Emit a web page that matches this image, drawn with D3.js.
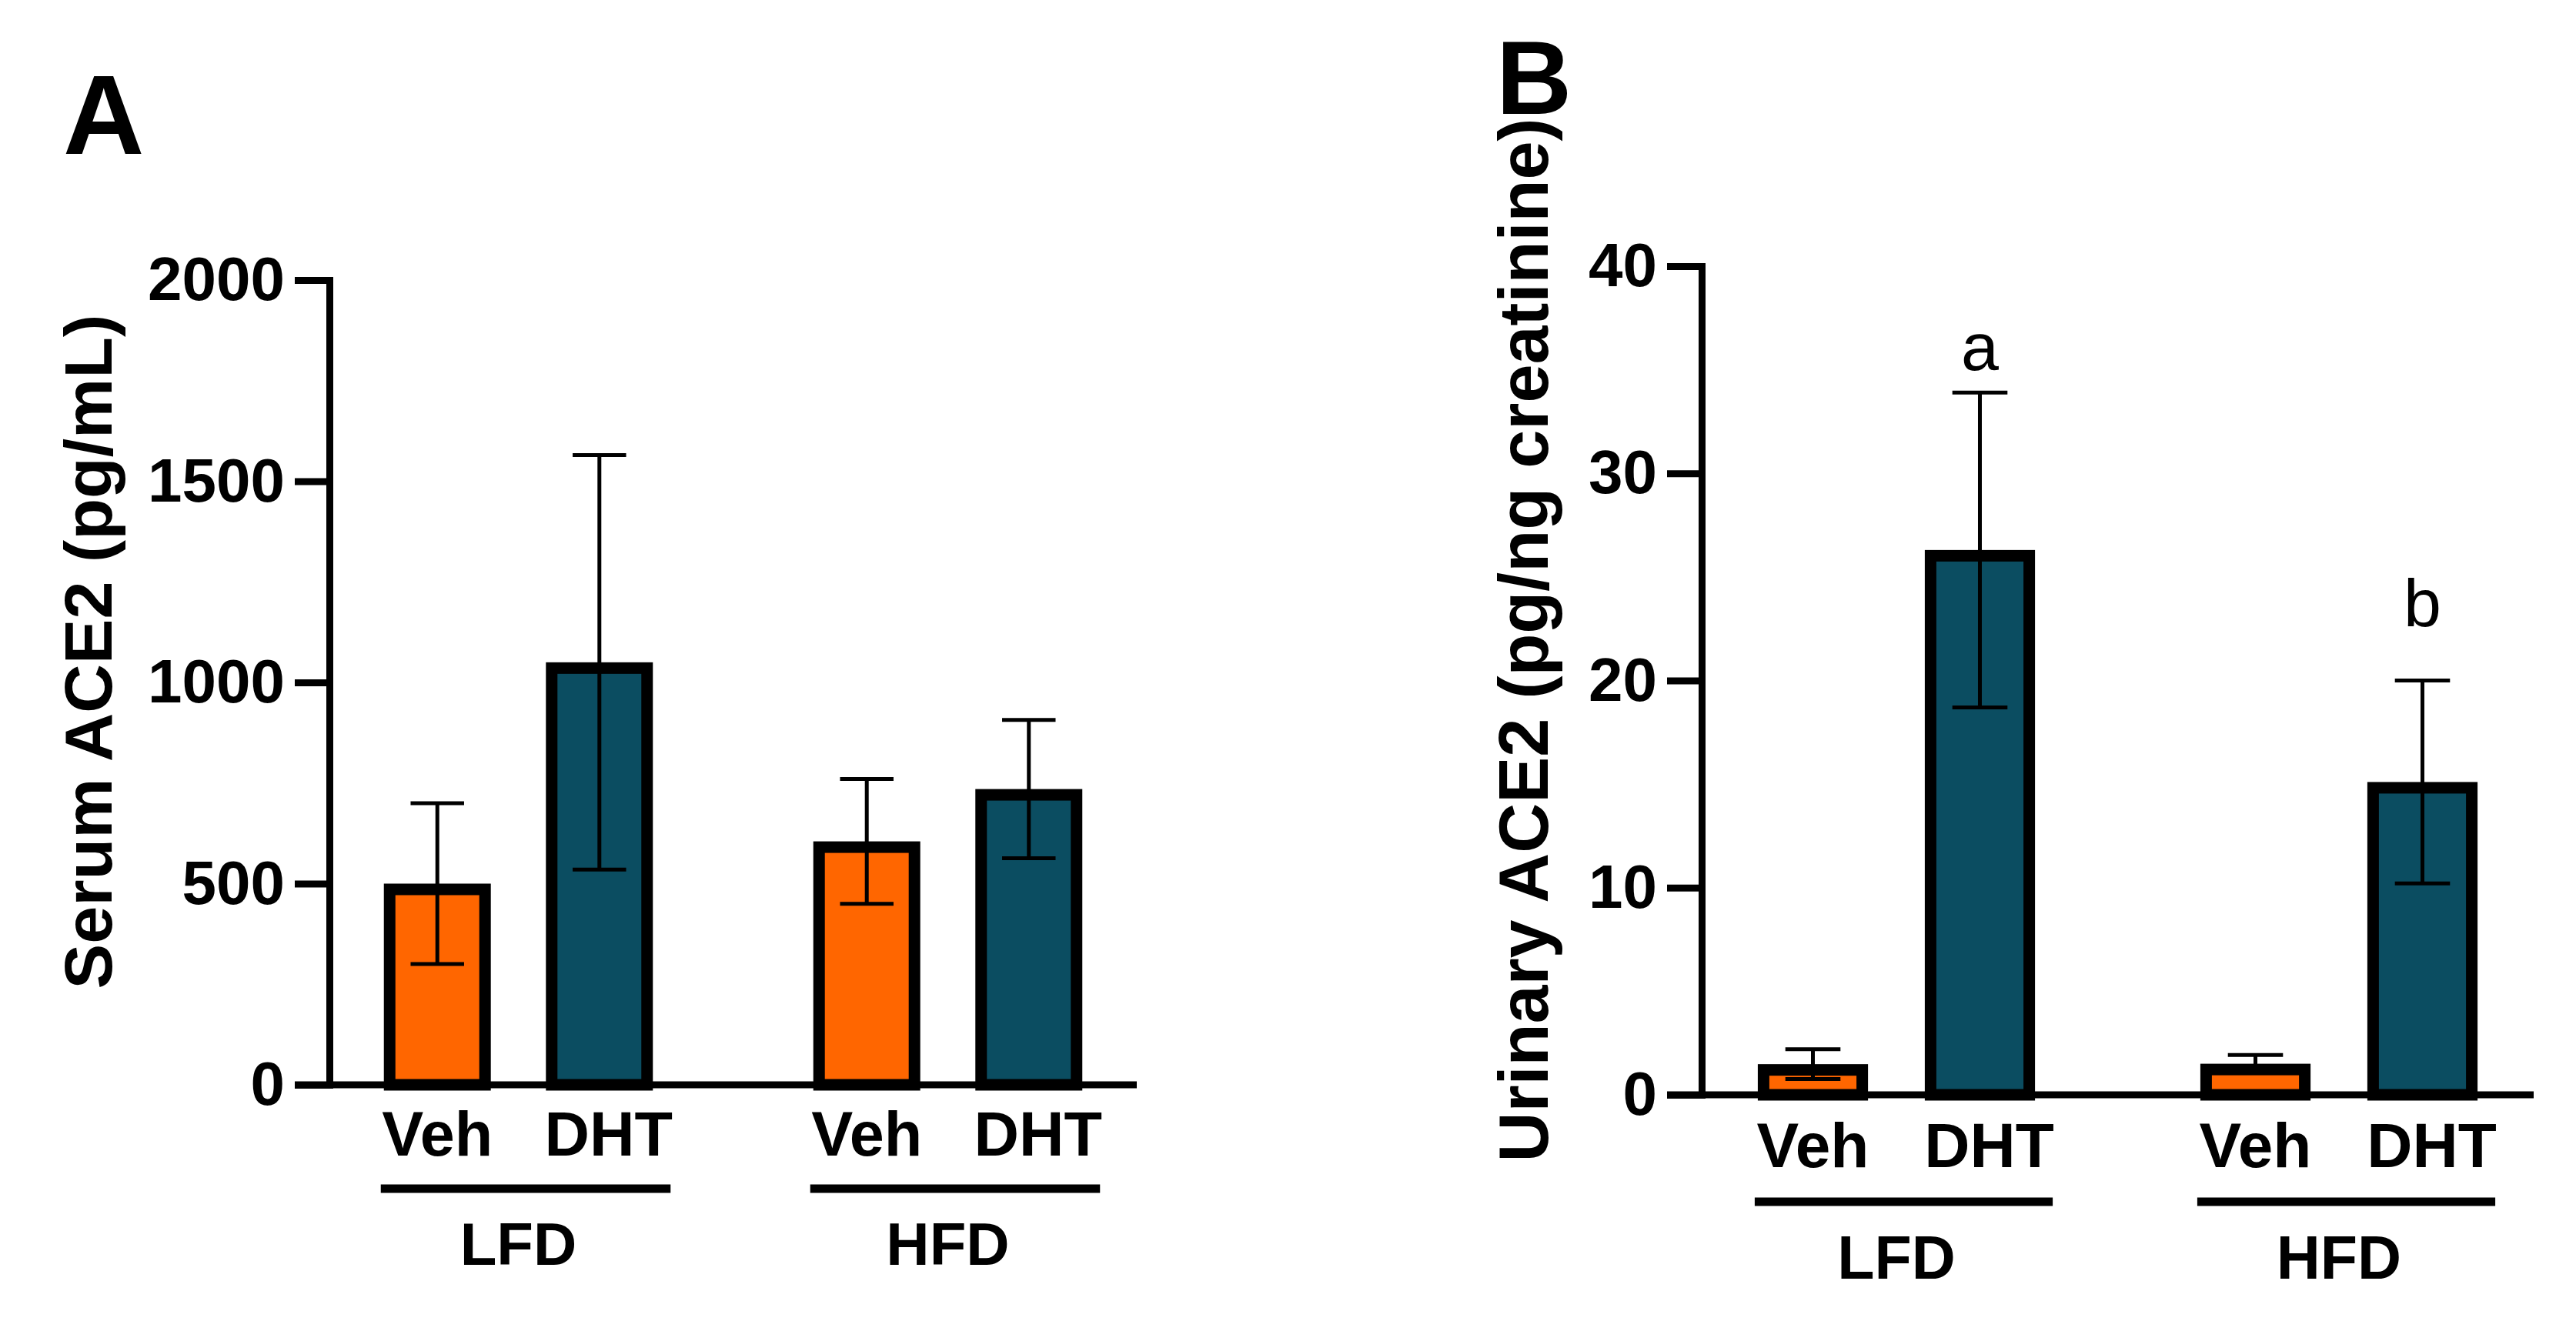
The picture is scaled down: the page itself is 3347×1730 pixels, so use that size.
<!DOCTYPE html>
<html lang="en">
<head>
<meta charset="UTF-8">
<title>Serum and urinary ACE2</title>
<style>
  html, body { margin: 0; padding: 0; background: #fff; }
  svg { display: block; font-family: "Liberation Sans", Arial, sans-serif; }
</style>
</head>
<body>
<svg id="chart" width="3347" height="1730"></svg>

<script src="https://cdn.jsdelivr.net/npm/d3@7/dist/d3.min.js"></script>
<script>
// ---- data (order: LFD Veh, LFD DHT, HFD Veh, HFD DHT) ----
const groups = ["LFD", "HFD"];
const treatments = ["Veh", "DHT"];

const serumMean = [500, 1050, 605, 735];
const serumErr = [200, 515, 155, 172];
const serumTicks = [0, 500, 1000, 1500, 2000];

const urineMean = [1.48, 26.3, 1.5, 15.1];
const urineErr = [0.72, 7.6, 0.42, 4.9];
const urineTicks = [0, 10, 20, 30, 40];
const urineLetters = ["", "a", "", "b"];
const urineLetterY = [null, 35.0, null, 22.6];

const colors = { Veh: "#ff6600", DHT: "#0b4d61" };

const svg = d3.select("#chart");

function rows(means, errs, letters, letterY) {
    const out = [];
    groups.forEach((g, gi) => {
        treatments.forEach((t, ti) => {
            const i = gi * treatments.length + ti;
            out.push({
                group: g, treat: t, mean: means[i], err: errs[i],
                letter: letters ? letters[i] : "", letterY: letterY ? letterY[i] : null
            });
        });
    });
    return out;
}

function drawPanel(p) {
    const g = svg.append("g");
    const data = rows(p.mean, p.err, p.letters, p.letterY);

    const y = d3.scaleLinear().domain([0, p.ticks[p.ticks.length - 1]]).range([p.y0, p.yTop]);
    const x0 = d3.scaleBand().domain(groups).range([p.axisX, p.endX])
        .paddingInner(0.2).paddingOuter(0.04);
    const x1 = d3.scaleBand().domain(treatments).range([0, x0.bandwidth()])
        .paddingInner(0.34).paddingOuter(0.23);
    const bw = x1.bandwidth();
    const cx = d => x0(d.group) + x1(d.treat) + bw / 2;

    // panel letter
    g.append("text")
        .attr("x", p.letterX).attr("y", p.letterBase)
        .attr("font-size", p.letterSize).attr("font-weight", "bold")
        .text(p.name);

    // bars (stroke drawn inside the outline)
    const sw = 15;
    g.selectAll("rect.bar").data(data).enter().append("rect")
        .attr("class", "bar")
        .attr("x", d => x0(d.group) + x1(d.treat) + sw / 2)
        .attr("y", d => y(d.mean) + sw / 2)
        .attr("width", bw - sw)
        .attr("height", d => Math.max(0, y(0) - y(d.mean) - sw / 2))
        .attr("fill", d => colors[d.treat])
        .attr("stroke", "#000")
        .attr("stroke-width", sw);

    // error bars
    const cap = bw * 0.5;
    const eb = g.selectAll("g.err").data(data).enter().append("g").attr("class", "err")
        .attr("stroke", "#000").attr("stroke-width", 5);
    eb.append("line")
        .attr("x1", cx).attr("x2", cx)
        .attr("y1", d => y(d.mean + d.err)).attr("y2", d => y(Math.max(0, d.mean - d.err)));
    eb.append("line")
        .attr("x1", d => cx(d) - cap / 2).attr("x2", d => cx(d) + cap / 2)
        .attr("y1", d => y(d.mean + d.err)).attr("y2", d => y(d.mean + d.err));
    eb.append("line")
        .attr("x1", d => cx(d) - cap / 2).attr("x2", d => cx(d) + cap / 2)
        .attr("y1", d => y(Math.max(0, d.mean - d.err))).attr("y2", d => y(Math.max(0, d.mean - d.err)));

    // significance letters
    g.selectAll("text.sig").data(data.filter(d => d.letter)).enter().append("text")
        .attr("class", "sig")
        .attr("x", cx).attr("y", d => y(d.letterY))
        .attr("text-anchor", "middle")
        .attr("font-size", 88)
        .text(d => d.letter);

    // y axis
    const yAxis = d3.axisLeft(y).tickValues(p.ticks).tickFormat(d3.format("d"))
        .tickSize(45).tickSizeOuter(0).tickPadding(13);
    const ya = g.append("g").attr("transform", `translate(${p.axisX},0)`).call(yAxis);
    ya.select(".domain").attr("stroke-width", 9).attr("stroke-linecap", "square");
    ya.selectAll(".tick line").attr("stroke-width", 9);
    ya.selectAll(".tick text")
        .attr("font-family", "Liberation Sans, Arial, sans-serif")
        .attr("font-size", p.tickSize).attr("font-weight", "bold").attr("fill", "#000");

    // x axis baseline
    g.append("line")
        .attr("x1", p.axisX - 45).attr("x2", x0.range()[1])
        .attr("y1", y(0)).attr("y2", y(0))
        .attr("stroke", "#000").attr("stroke-width", 9);

    // y axis title
    g.append("text")
        .attr("transform", `translate(${p.titleX},${p.titleY}) rotate(-90)`)
        .attr("text-anchor", "middle")
        .attr("font-size", p.titleSize).attr("font-weight", "bold")
        .text(p.title);

    // treatment labels
    g.selectAll("text.cat").data(data).enter().append("text")
        .attr("class", "cat")
        .attr("x", d => cx(d) + (d.treat === "DHT" ? 12 : 0))
        .attr("y", y(0) + p.catOffset)
        .attr("text-anchor", "middle")
        .attr("font-size", p.catSize).attr("font-weight", "bold")
        .text(d => d.treat);

    // group brackets and labels
    groups.forEach(grp => {
        const left = x0(grp) + x1(treatments[0]) - 4;
        const right = x0(grp) + x1(treatments[treatments.length - 1]) + bw + 23;
        g.append("line")
            .attr("x1", left).attr("x2", right)
            .attr("y1", y(0) + p.bracketOffset).attr("y2", y(0) + p.bracketOffset)
            .attr("stroke", "#000").attr("stroke-width", 11);
        g.append("text")
            .attr("x", x0(grp) + x0.bandwidth() / 2)
            .attr("y", y(0) + p.groupOffset)
            .attr("text-anchor", "middle")
            .attr("font-size", p.groupSize).attr("font-weight", "bold")
            .text(grp);
    });
}

drawPanel({
    name: "A", letterX: 82, letterBase: 200, letterSize: 146,
    mean: serumMean, err: serumErr, ticks: serumTicks,
    yTop: 364, y0: 1410, axisX: 428, endX: 1477,
    title: "Serum ACE2 (pg/mL)", titleX: 145, titleY: 847, titleSize: 88,
    tickSize: 80, catSize: 81, catOffset: 92, bracketOffset: 135,
    groupOffset: 234, groupSize: 78
});

drawPanel({
    name: "B", letterX: 1944, letterBase: 148, letterSize: 136,
    mean: urineMean, err: urineErr, ticks: urineTicks,
    letters: urineLetters, letterY: urineLetterY,
    yTop: 346, y0: 1423, axisX: 2211, endX: 3292,
    title: "Urinary ACE2 (pg/ng creatinine)", titleX: 2011, titleY: 832, titleSize: 90,
    tickSize: 80, catSize: 82, catOffset: 94, bracketOffset: 139,
    groupOffset: 239, groupSize: 79
});
</script>
</body>
</html>
